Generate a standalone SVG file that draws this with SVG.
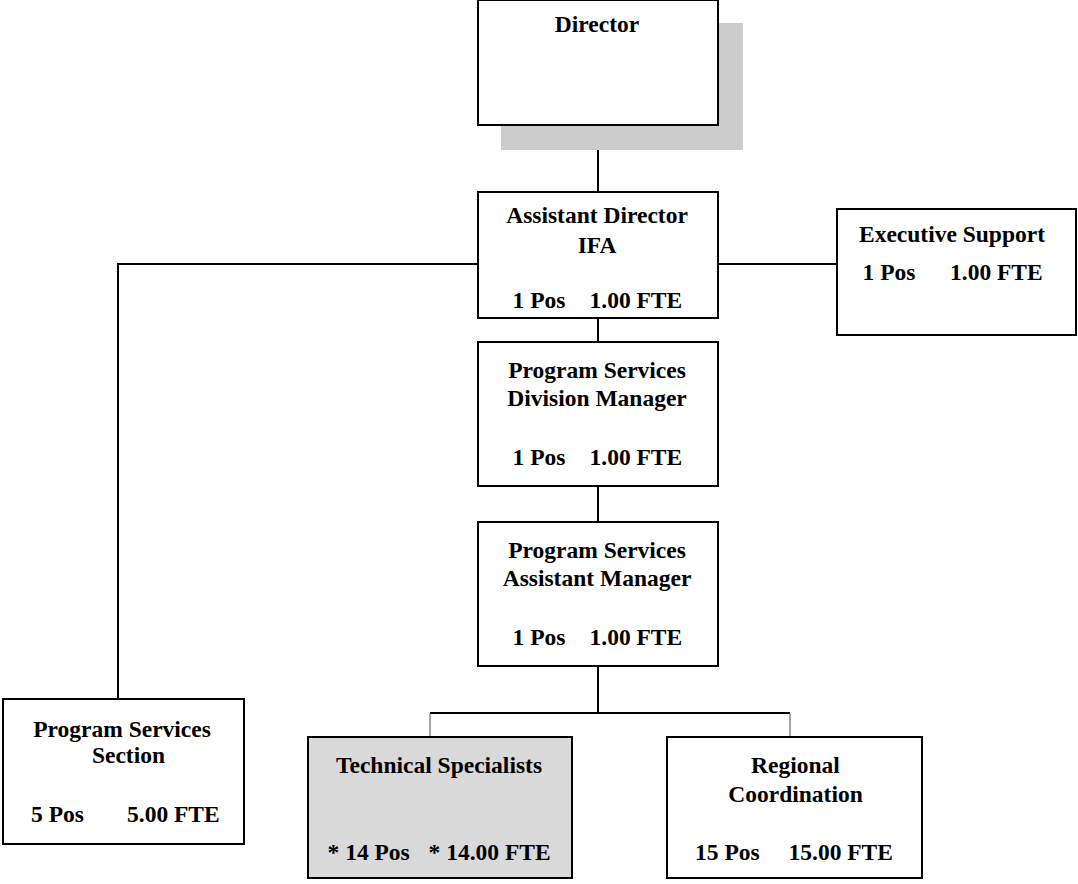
<svg xmlns="http://www.w3.org/2000/svg" width="1078" height="884" viewBox="0 0 1078 884">
  <style>
    .box { fill: #ffffff; stroke: #000000; stroke-width: 2; }
    .shade { fill: #d9d9d9; stroke: #000000; stroke-width: 2; }
    .shadow { fill: #cccccc; stroke: none; }
    .t { font-family: "Liberation Serif", "Times New Roman", serif; font-weight: bold; font-size: 23.5px; fill: #000000; }
    .c { text-anchor: middle; }
    .link { fill: none; stroke: #000000; stroke-width: 2; }
    .drop { fill: none; stroke: #777777; stroke-width: 1.3; }
  </style>

  <rect width="1078" height="884" fill="#ffffff"/>

  <!-- connectors -->
  <g id="connectors">
    <line class="link" x1="598" y1="150" x2="598" y2="192"/>
    <polyline class="link" points="478,264 118,264 118,699"/>
    <line class="link" x1="718" y1="264" x2="837" y2="264"/>
    <line class="link" x1="598" y1="318" x2="598" y2="342"/>
    <line class="link" x1="598" y1="486" x2="598" y2="522"/>
    <line class="link" x1="598" y1="666" x2="598" y2="713"/>
    <line class="link" x1="430" y1="713" x2="790" y2="713"/>
    <line class="drop" x1="430" y1="713" x2="430" y2="737"/>
    <line class="drop" x1="790" y1="713" x2="790" y2="737"/>
  </g>

  <!-- top of the chart -->
  <g id="director">
    <rect class="shadow" x="501" y="23" width="242" height="127"/>
    <rect class="box" x="478" y="0" width="240" height="125"/>
    <text class="t c" x="597" y="32">Director</text>
  </g>

  <g id="assistant-director">
    <rect class="box" x="478" y="192" width="240" height="126"/>
    <text class="t c" x="597" y="223">Assistant Director</text>
    <text class="t c" x="597" y="252.5">IFA</text>
    <text class="t" x="512.5" y="308">1 Pos</text>
    <text class="t" x="589.5" y="308">1.00 FTE</text>
  </g>

  <g id="executive-support">
    <rect class="box" x="837" y="209" width="239" height="126"/>
    <text class="t c" x="952" y="241.5">Executive Support</text>
    <text class="t" x="862.5" y="280">1 Pos</text>
    <text class="t" x="950" y="280">1.00 FTE</text>
  </g>

  <g id="division-manager">
    <rect class="box" x="478" y="342" width="240" height="144"/>
    <text class="t c" x="597" y="378">Program Services</text>
    <text class="t c" x="597" y="406">Division Manager</text>
    <text class="t" x="512.5" y="465">1 Pos</text>
    <text class="t" x="589.5" y="465">1.00 FTE</text>
  </g>

  <g id="assistant-manager">
    <rect class="box" x="478" y="522" width="240" height="144"/>
    <text class="t c" x="597" y="558">Program Services</text>
    <text class="t c" x="597" y="586">Assistant Manager</text>
    <text class="t" x="512.5" y="645">1 Pos</text>
    <text class="t" x="589.5" y="645">1.00 FTE</text>
  </g>

  <!-- bottom row -->
  <g id="program-services-section">
    <rect class="box" x="3" y="699" width="241" height="145"/>
    <text class="t c" x="122" y="736.5">Program Services</text>
    <text class="t c" x="128.5" y="763">Section</text>
    <text class="t" x="31" y="821.5">5 Pos</text>
    <text class="t" x="127" y="821.5">5.00 FTE</text>
  </g>

  <g id="technical-specialists">
    <rect class="shade" x="308" y="737" width="264" height="141"/>
    <text class="t c" x="439" y="773">Technical Specialists</text>
    <text class="t" x="327.5" y="860">* 14 Pos</text>
    <text class="t" x="428.5" y="860">* 14.00 FTE</text>
  </g>

  <g id="regional-coordination">
    <rect class="box" x="667" y="737" width="255" height="141"/>
    <text class="t c" x="795.5" y="773">Regional</text>
    <text class="t c" x="795.5" y="801.5">Coordination</text>
    <text class="t" x="695" y="860">15 Pos</text>
    <text class="t" x="788.5" y="860">15.00 FTE</text>
  </g>
</svg>
